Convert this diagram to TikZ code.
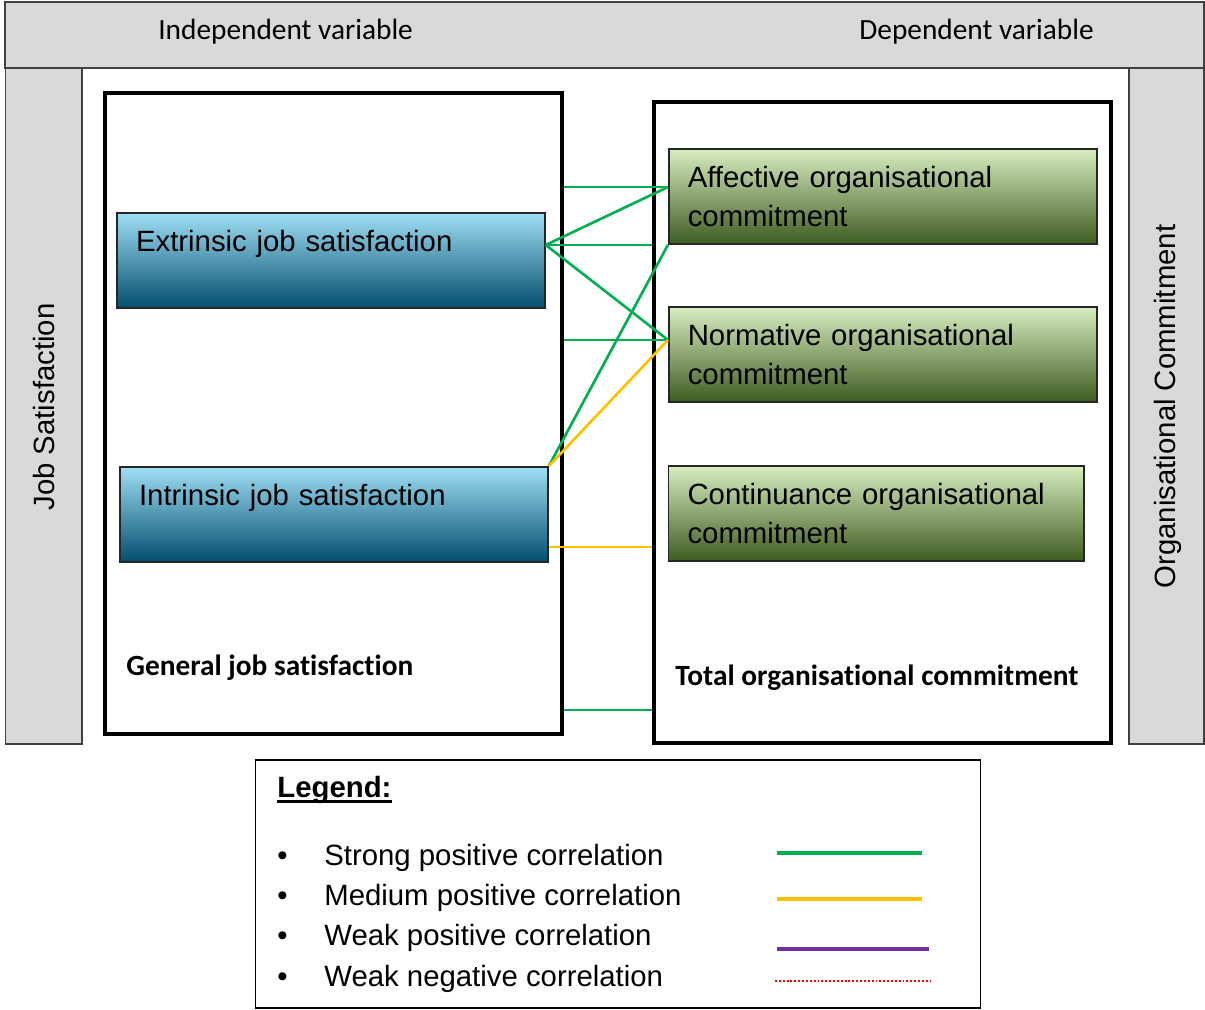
\documentclass[tikz,border=0pt]{standalone}
\usepackage{fontspec}
\setmainfont{Liberation Sans}
\newfontfamily\calibri{Carlito}[Ligatures=NoCommon]
\definecolor{barfill}{HTML}{D9D9D9}
\definecolor{jstop}{RGB}{160,222,246}
\definecolor{jsmid}{RGB}{86,166,196}
\definecolor{jsbot}{RGB}{2,78,108}
\definecolor{octop}{RGB}{215,237,192}
\definecolor{ocmid}{RGB}{140,170,106}
\definecolor{ocbot}{RGB}{62,92,32}
\definecolor{strongc}{HTML}{00B050}
\definecolor{mediumc}{HTML}{FFC000}
\definecolor{weakc}{HTML}{7030A0}
\definecolor{negc}{HTML}{FF0000}
\tikzset{
  barbox/.style={draw=black!75,line width=0.8pt,fill=barfill,inner sep=0pt},
  bigbox/.style={draw=black,line width=2.3pt,fill=white,inner sep=0pt,
    minimum width=9.14cm,minimum height=12.82cm},
  subbox/.style={draw=black!85,line width=0.9pt,minimum height=1.9cm,
    inner xsep=0.38cm,inner ysep=0pt,align=left,text width=7.8cm},
  jsbox/.style={subbox,top color=jstop,middle color=jsmid,bottom color=jsbot},
  ocbox/.style={subbox,top color=octop,middle color=ocmid,bottom color=ocbot},
  plaintext/.style={anchor=base west,inner sep=0pt},
  strong/.style={draw=strongc,line width=1.5pt},
  medium/.style={draw=mediumc,line width=1.5pt},
  strongkey/.style={draw=strongc,line width=1.9pt},
  mediumkey/.style={draw=mediumc,line width=1.9pt},
  weakkey/.style={draw=weakc,line width=1.9pt},
  negkey/.style={draw=negc,line width=1pt,dash pattern=on 1.1pt off 1.1pt}
}
\begin{document}
\fontsize{16.7}{22.2}\selectfont
\begin{tikzpicture}[x=0.02cm,y=-0.02cm]
 \useasboundingbox (0,0) rectangle (1205,1010);
 % grey frame
 \node[barbox,minimum width=23.98cm,minimum height=1.32cm] (header) at (604.5,35) {};
 \node[barbox,minimum width=1.53cm,minimum height=13.52cm] (leftbar) at (43.75,406) {};
 \node[barbox,minimum width=1.5cm,minimum height=13.52cm] (rightbar) at (1166.5,406) {};
 \node[plaintext,font=\calibri] (indep) at (158,39.3) {Independent variable};
 \node[plaintext,font=\calibri] (dep) at (859,39.3) {Dependent variable};
 \node[rotate=90,inner sep=0pt] (jobsat) at (44.5,407) {Job Satisfaction};
 \node[rotate=90,inner sep=0pt] (orgcom) at (1168,406.5) {Organisational Commitment};
 % main boxes
 \node[bigbox] (general) at (333.5,413.5) {};
 \node[bigbox] (total) at (882.75,422.75) {};
 \node[plaintext,font=\calibri\bfseries] (gentext) at (126,675) {General job satisfaction};
 \node[plaintext,font=\calibri\bfseries] (totaltext) at (675,685) {Total organisational commitment};
 \node[jsbox] (extrinsic) at (331,260.5) {Extrinsic job satisfaction\\\mbox{}};
 \node[jsbox] (intrinsic) at (334,514.5) {Intrinsic job satisfaction\\\mbox{}};
 \node[ocbox] (affective) at (882.75,196.5) {Affective organisational\\commitment};
 \node[ocbox] (normative) at (882.75,354.5) {Normative organisational\\commitment};
 \node[ocbox,text width=7.55cm] (continuance) at (876.25,513.5) {Continuance organisational\\commitment};
 % correlations
 \coordinate (ext out) at ([yshift=0.31cm]extrinsic.east);
 \coordinate (int out) at ([yshift=-0.65cm]intrinsic.east);
 \coordinate (aff in) at ([yshift=0.19cm]affective.west);
 \coordinate (nor in) at ([yshift=0.29cm]normative.west);
 \coordinate (gen out) at ([yshift=0.52cm]general.south east);
 \draw[strong] (general.east |- aff in) -- (aff in);
 \draw[strong] (ext out) -- (aff in);
 \draw[strong] (ext out) -- (total.west |- ext out);
 \draw[strong] (ext out) -- (nor in);
 \draw[strong] (general.east |- nor in) -- (nor in);
 \draw[strong] (affective.south west) -- (intrinsic.north east);
 \draw[medium] (intrinsic.north east) -- (nor in);
 \draw[medium] (int out) -- (total.west |- int out);
 \draw[strong] (gen out) -- (total.west |- gen out);
 % legend
 \node[draw=black,line width=0.8pt,minimum width=14.5cm,minimum height=4.96cm,inner sep=0pt] (legend) at (618,884) {};
 \node[plaintext] (legtitle) at (277,797) {\textbf{Legend:}};
 \draw[line width=1.5pt] ([yshift=-2.7pt]legtitle.base west) -- ([yshift=-2.7pt]legtitle.base east);
 \node[plaintext] (strongitem) at (277,865) {\makebox[0.94cm][l]{\textbullet}Strong positive correlation};
 \node[plaintext] (mediumitem) at (277,905) {\makebox[0.94cm][l]{\textbullet}Medium positive correlation};
 \node[plaintext] (weakitem) at (277,945.5) {\makebox[0.94cm][l]{\textbullet}Weak positive correlation};
 \node[plaintext] (negitem) at (277,986) {\makebox[0.94cm][l]{\textbullet}Weak negative correlation};
 \draw[strongkey] (777,853) -- (922,853);
 \draw[mediumkey] (777,899) -- (922,899);
 \draw[weakkey] (777,949) -- (929,949);
 \draw[negkey] (775,981) -- (930,981);
\end{tikzpicture}
\end{document}
